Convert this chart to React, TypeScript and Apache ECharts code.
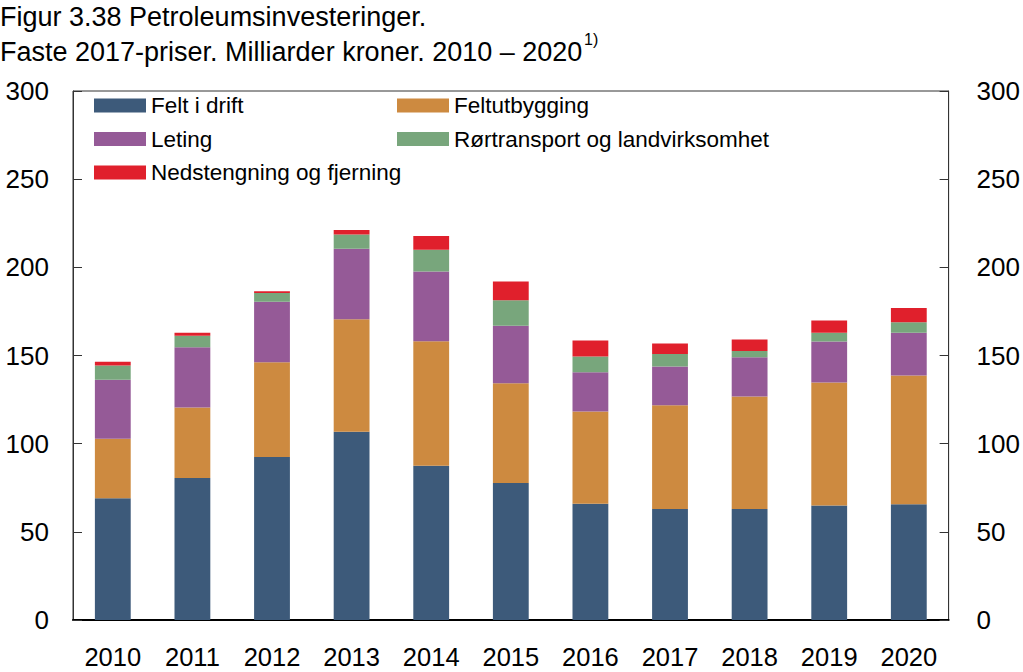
import React, { useEffect, useRef } from "react";
import * as echarts from "echarts";

const years = ["2010", "2011", "2012", "2013", "2014", "2015", "2016", "2017", "2018", "2019", "2020"];
const feltIDrift = [69.1, 80.5, 92.4, 106.8, 87.5, 77.7, 65.9, 62.9, 62.9, 64.9, 65.7];
const feltutbygging = [33.7, 40.0, 53.8, 63.8, 70.6, 56.6, 52.3, 58.9, 63.8, 69.8, 72.9];
const leting = [33.4, 34.2, 34.3, 40.0, 39.6, 32.6, 22.3, 22.0, 22.3, 23.3, 24.3];
const rortransport = [8.1, 6.5, 4.9, 8.0, 12.3, 14.4, 8.9, 7.0, 3.5, 4.9, 5.9];
const nedstengning = [2.1, 1.7, 1.0, 2.6, 7.8, 10.6, 9.1, 6.0, 6.6, 7.0, 8.1];

const seriesNames = [
  "Felt i drift",
  "Feltutbygging",
  "Leting",
  "Rørtransport og landvirksomhet",
  "Nedstengning og fjerning",
];
const seriesData = [feltIDrift, feltutbygging, leting, rortransport, nedstengning];
const colors = ["#3d5a7a", "#cd8a40", "#955a97", "#78a67c", "#e0202c"];

const FONT = "'Liberation Sans', Arial, Helvetica, sans-serif";

export default function App() {
  const ref = useRef<HTMLDivElement>(null);
  useEffect(() => {
    if (!ref.current) return;
    const chart = echarts.init(ref.current, undefined, { renderer: "svg" });
    const yAxisBase = {
      type: "value",
      min: 0,
      max: 300,
      interval: 50,
      splitLine: { show: false },
      axisLine: { show: true, lineStyle: { color: "#333", width: 1 } },
      axisTick: { show: true, inside: true, length: 9, lineStyle: { color: "#333" } },
    };
    const legendText = { fontSize: 22.5, lineHeight: 20, color: "#000", fontFamily: FONT };
    const titleText = { fontSize: 27, fontWeight: "normal", color: "#000", fontFamily: FONT };
    chart.setOption({
      animation: false,
      color: colors,
      textStyle: { fontFamily: FONT },
      title: [
        {
          text: "Figur 3.38 Petroleumsinvesteringer.",
          left: 0,
          top: 3,
          padding: 0,
          textStyle: titleText,
        },
        {
          text: "Faste 2017-priser. Milliarder kroner. 2010 – 2020",
          left: 0,
          top: 38,
          padding: 0,
          textStyle: titleText,
        },
        {
          text: "1)",
          left: 584,
          top: 31,
          padding: 0,
          textStyle: { ...titleText, fontSize: 16 },
        },
      ],
      legend: [
        {
          data: [seriesNames[0], seriesNames[2], seriesNames[4]],
          orient: "vertical",
          left: 94,
          top: 94,
          padding: 0,
          itemWidth: 52,
          itemHeight: 14,
          itemGap: 10.5,
          icon: "rect",
          textStyle: legendText,
        },
        {
          data: [seriesNames[1], seriesNames[3]],
          orient: "vertical",
          left: 397,
          top: 94,
          padding: 0,
          itemWidth: 52,
          itemHeight: 14,
          itemGap: 10.5,
          icon: "rect",
          textStyle: legendText,
        },
      ],
      grid: {
        left: 73,
        right: 71,
        top: 91,
        bottom: 52,
        show: true,
        borderColor: "#333",
        borderWidth: 1,
        containLabel: false,
      },
      xAxis: {
        type: "category",
        data: years,
        axisLine: { show: true, lineStyle: { color: "#000", width: 2 } },
        axisTick: { show: true, inside: true, alignWithLabel: true, length: 9, lineStyle: { color: "#000" } },
        axisLabel: { fontSize: 25.5, color: "#000", margin: 24, fontFamily: FONT },
      },
      yAxis: [
        {
          ...yAxisBase,
          position: "left",
          axisLabel: { fontSize: 26, color: "#000", margin: 24, fontFamily: FONT },
        },
        {
          ...yAxisBase,
          position: "right",
          axisLabel: { fontSize: 26, color: "#000", margin: 28, fontFamily: FONT },
        },
      ],
      series: seriesNames.map((name, i) => ({
        name,
        type: "bar",
        stack: "total",
        yAxisIndex: 0,
        barWidth: "45%",
        data: seriesData[i],
        itemStyle: { color: colors[i] },
      })),
    });
    return () => chart.dispose();
  }, []);
  return (
    <div
      ref={ref}
      style={{ position: "fixed", left: 0, top: 0, width: 1023, height: 672, background: "#fff" }}
    />
  );
}
